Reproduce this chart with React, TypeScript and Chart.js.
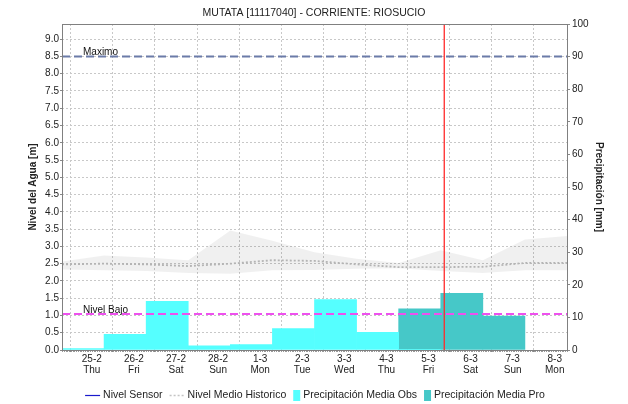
import { useEffect, useRef } from "react";
import { Chart, registerables } from "chart.js";

Chart.register(...registerables);

const TITLE = "MUTATA [11117040] - CORRIENTE: RIOSUCIO";
const DAY_LABELS = ["25-2", "26-2", "27-2", "28-2", "1-3", "2-3", "3-3", "4-3", "5-3", "6-3", "7-3", "8-3"];
const WEEKDAYS = ["Thu", "Fri", "Sat", "Sun", "Mon", "Tue", "Wed", "Thu", "Fri", "Sat", "Sun", "Mon"];
// daily precipitation (mm) per hydrological day
const PRECIP_OBS = [0.4, 4.8, 14.9, 1.3, 1.7, 6.6, 15.5, 5.4, 0.2, null, null, null];
const PRECIP_PRO = [null, null, null, null, null, null, null, null, 12.6, 17.4, 10.4, null];
// historical level envelope at day boundaries (m)
const HIST_MAX = [2.56, 2.74, 2.68, 2.6, 3.46, 3.16, 2.83, 2.64, 2.52, 2.89, 2.6, 3.2, 3.3];
const HIST_MIN = [2.33, 2.31, 2.29, 2.23, 2.21, 2.31, 2.32, 2.35, 2.37, 2.29, 2.23, 2.31, 2.31];
const HIST_MEAN = [2.48, 2.5, 2.48, 2.43, 2.5, 2.6, 2.58, 2.48, 2.4, 2.4, 2.41, 2.52, 2.52];
const NIVEL_MAXIMO = 8.5;
const NIVEL_BAJO = 1.04;
const NOW_HOUR = 201.0; // hours since 25-2 00:00
const DAY_START_HOUR = -17; // hydrological day begins the previous day
const HOURS_PER_DAY = 24;
const LEVEL_AXIS_MAX = 9.44;
const PRECIP_AXIS_MAX = 100;

const OBS_COLOR = "#55ffff";
const PRO_COLOR = "#46c8c8";
const FONT = "'Liberation Sans', Arial, sans-serif";

const X_MIN = DAY_START_HOUR;
const X_MAX = DAY_START_HOUR + HOURS_PER_DAY * DAY_LABELS.length;
const dayCenter = (i: number) => DAY_START_HOUR + HOURS_PER_DAY * i + HOURS_PER_DAY / 2;
const dayBoundary = (k: number) => DAY_START_HOUR + HOURS_PER_DAY * k;

const framePlugin = {
  id: "frameAndLabels",
  afterDatasetsDraw(chart: any) {
    const { ctx, chartArea: a, scales } = chart;
    ctx.save();
    // minor hourly ticks under the x axis
    ctx.strokeStyle = "#9a9a9a";
    ctx.lineWidth = 1;
    ctx.beginPath();
    for (let h = X_MIN; h <= X_MAX; h++) {
      const px = Math.round(scales.x.getPixelForValue(h)) + 0.5;
      ctx.moveTo(px, a.bottom);
      ctx.lineTo(px, a.bottom + 2);
    }
    ctx.stroke();
    // frame
    ctx.strokeStyle = "#808080";
    ctx.strokeRect(Math.round(a.left) + 0.5, Math.round(a.top) + 0.5, Math.round(a.right - a.left), Math.round(a.bottom - a.top));
    // threshold labels
    ctx.fillStyle = "#111";
    ctx.font = `10px ${FONT}`;
    ctx.textBaseline = "alphabetic";
    ctx.textAlign = "left";
    ctx.fillText("Maximo", a.left + 21, scales.y.getPixelForValue(NIVEL_MAXIMO) - 1);
    ctx.fillText("Nivel Bajo", a.left + 21, scales.y.getPixelForValue(NIVEL_BAJO) - 1);
    ctx.restore();
  },
  afterDraw(chart: any) {
    const { ctx } = chart;
    const items = chart.data.datasets.filter((d: any) => d.legendKind);
    ctx.save();
    ctx.font = `10.5px ${FONT}`;
    ctx.textBaseline = "middle";
    ctx.textAlign = "left";
    const gapText = 3;
    const gapItem = 7;
    const widths = items.map((d: any) => (d.legendKind === "line" ? 15 : 7) + gapText + ctx.measureText(d.label).width);
    const total = widths.reduce((s: number, w: number) => s + w, 0) + gapItem * (items.length - 1);
    let x = chart.width / 2 + 1 - total / 2;
    const y = 395.5;
    items.forEach((d: any, i: number) => {
      if (d.legendKind === "line") {
        ctx.strokeStyle = d.legendColor || d.borderColor;
        ctx.lineWidth = d.legendWidth || 1.5;
        ctx.setLineDash(d.borderDash || []);
        ctx.beginPath();
        ctx.moveTo(x, y);
        ctx.lineTo(x + 15, y);
        ctx.stroke();
        ctx.setLineDash([]);
        x += 15;
      } else {
        ctx.fillStyle = d.backgroundColor;
        ctx.fillRect(x, y - 5.5, 7, 11);
        x += 7;
      }
      x += gapText;
      ctx.fillStyle = "#222";
      ctx.fillText(d.label, x, y);
      x += widths[i] - gapText - (d.legendKind === "line" ? 15 : 7) + gapItem;
    });
    ctx.restore();
  },
};

export default function App() {
  const ref = useRef<HTMLCanvasElement>(null);
  useEffect(() => {
    Chart.defaults.font.family = FONT;
    const chart = new Chart(ref.current as HTMLCanvasElement, {
      type: "line",
      data: {
        datasets: [
          {
            label: "Historico max",
            data: HIST_MAX.map((v, k) => ({ x: dayBoundary(k), y: v })),
            borderColor: "transparent",
            borderWidth: 0,
            pointRadius: 0,
            fill: "+1",
            backgroundColor: "rgba(0,0,0,0.06)",
            yAxisID: "y",
            order: 20,
          },
          {
            label: "Historico min",
            data: HIST_MIN.map((v, k) => ({ x: dayBoundary(k), y: v })),
            borderColor: "transparent",
            borderWidth: 0,
            pointRadius: 0,
            fill: false,
            yAxisID: "y",
            order: 19,
          },
          {
            label: "Nivel Sensor",
            legendKind: "line",
            legendWidth: 1.2,
            data: [],
            borderColor: "#1a1acc",
            borderWidth: 1,
            pointRadius: 0,
            yAxisID: "y",
            order: 5,
          },
          {
            label: "Nivel Medio Historico",
            legendKind: "line",
            legendColor: "#c4c4c4",
            legendWidth: 1.5,
            data: HIST_MEAN.map((v, k) => ({ x: dayBoundary(k), y: v })),
            borderColor: "#b4b4b4",
            borderWidth: 1.8,
            borderDash: [2, 2],
            pointRadius: 0,
            fill: false,
            yAxisID: "y",
            order: 18,
          },
          {
            type: "bar",
            label: "Precipitación Media Obs",
            legendKind: "box",
            data: PRECIP_OBS.map((v, i) => ({ x: dayCenter(i), y: v })),
            backgroundColor: OBS_COLOR,
            borderWidth: 0,
            barPercentage: 1,
            categoryPercentage: 1,
            grouped: false,
            yAxisID: "y2",
            order: 14,
          },
          {
            type: "bar",
            label: "Precipitación Media Pro",
            legendKind: "box",
            data: PRECIP_PRO.map((v, i) => ({ x: dayCenter(i), y: v })),
            backgroundColor: PRO_COLOR,
            borderWidth: 0,
            barPercentage: 1,
            categoryPercentage: 1,
            grouped: false,
            yAxisID: "y2",
            order: 15,
          },
          {
            label: "Maximo",
            data: [
              { x: X_MIN, y: NIVEL_MAXIMO },
              { x: X_MAX, y: NIVEL_MAXIMO },
            ],
            borderColor: "#6b7ba8",
            borderWidth: 2,
            borderDash: [8, 4],
            pointRadius: 0,
            fill: false,
            yAxisID: "y",
            order: 4,
          },
          {
            label: "Nivel Bajo",
            data: [
              { x: X_MIN, y: NIVEL_BAJO },
              { x: X_MAX, y: NIVEL_BAJO },
            ],
            borderColor: "#ee50ee",
            borderWidth: 2,
            borderDash: [8, 4],
            pointRadius: 0,
            fill: false,
            yAxisID: "y",
            order: 3,
          },
          {
            label: "Ahora",
            data: [
              { x: NOW_HOUR, y: 0 },
              { x: NOW_HOUR, y: LEVEL_AXIS_MAX },
            ],
            borderColor: "#ff2a2a",
            borderWidth: 1.3,
            pointRadius: 0,
            fill: false,
            yAxisID: "y",
            order: 1,
          },
        ] as any,
      },
      options: {
        responsive: false,
        animation: false,
        devicePixelRatio: 1,
        events: [],
        layout: { padding: 0 },
        plugins: {
          legend: { display: false },
          tooltip: { enabled: false },
          title: {
            display: true,
            text: TITLE,
            color: "#222",
            font: { size: 10.5, weight: "normal", family: FONT },
            padding: { top: 7, bottom: 4.4 },
          },
        },
        scales: {
          x: {
            type: "linear",
            min: X_MIN,
            max: X_MAX,
            offset: false,
            afterBuildTicks: (s: any) => {
              s.ticks = DAY_LABELS.map((_, i) => ({ value: i * HOURS_PER_DAY }));
            },
            afterFit: (s: any) => {
              s.height = 54;
            },
            ticks: {
              autoSkip: false,
              maxRotation: 0,
              padding: 2,
              color: "#222",
              font: { size: 10, lineHeight: 1.1 },
              callback: (_v: any, i: number) => [DAY_LABELS[i], WEEKDAYS[i]],
            },
            grid: { color: "#c8c8c8", tickColor: "#888", tickLength: 2 },
            border: { display: false, dash: [2, 2] },
          },
          y: {
            type: "linear",
            position: "left",
            min: 0,
            max: LEVEL_AXIS_MAX,
            afterBuildTicks: (s: any) => {
              s.ticks = s.ticks.filter((t: any) => Math.abs(t.value * 2 - Math.round(t.value * 2)) < 1e-6);
            },
            afterFit: (s: any) => {
              s.width = 62;
            },
            ticks: {
              stepSize: 0.5,
              padding: 1,
              color: "#222",
              font: { size: 10 },
              callback: (v: any) => Number(v).toFixed(1),
            },
            grid: { color: "#c8c8c8", tickColor: "#888", tickLength: 2 },
            border: { display: false, dash: [2, 2] },
            title: {
              display: true,
              text: "Nivel del Agua [m]",
              color: "#222",
              font: { size: 10, weight: "bold", lineHeight: 1.2 },
              padding: { top: 27, bottom: 0 },
            },
          },
          y2: {
            type: "linear",
            position: "right",
            min: 0,
            max: PRECIP_AXIS_MAX,
            afterFit: (s: any) => {
              s.width = 61;
            },
            ticks: {
              stepSize: 10,
              padding: 2,
              color: "#222",
              font: { size: 10 },
            },
            grid: { drawOnChartArea: false, color: "#888", tickLength: 3 },
            border: { display: false },
            title: {
              display: true,
              text: "Precipitación [mm]",
              color: "#222",
              font: { size: 10, weight: "bold", lineHeight: 1.2 },
              padding: { top: 23.5, bottom: 0 },
            },
          },
        },
      } as any,
      plugins: [framePlugin],
    });
    return () => chart.destroy();
  }, []);
  return (
    <div style={{ position: "fixed", left: 0, top: 0, width: 628, height: 404, background: "#fff" }}>
      <canvas ref={ref} width={628} height={404} style={{ display: "block", width: 628, height: 404 }} />
    </div>
  );
}
